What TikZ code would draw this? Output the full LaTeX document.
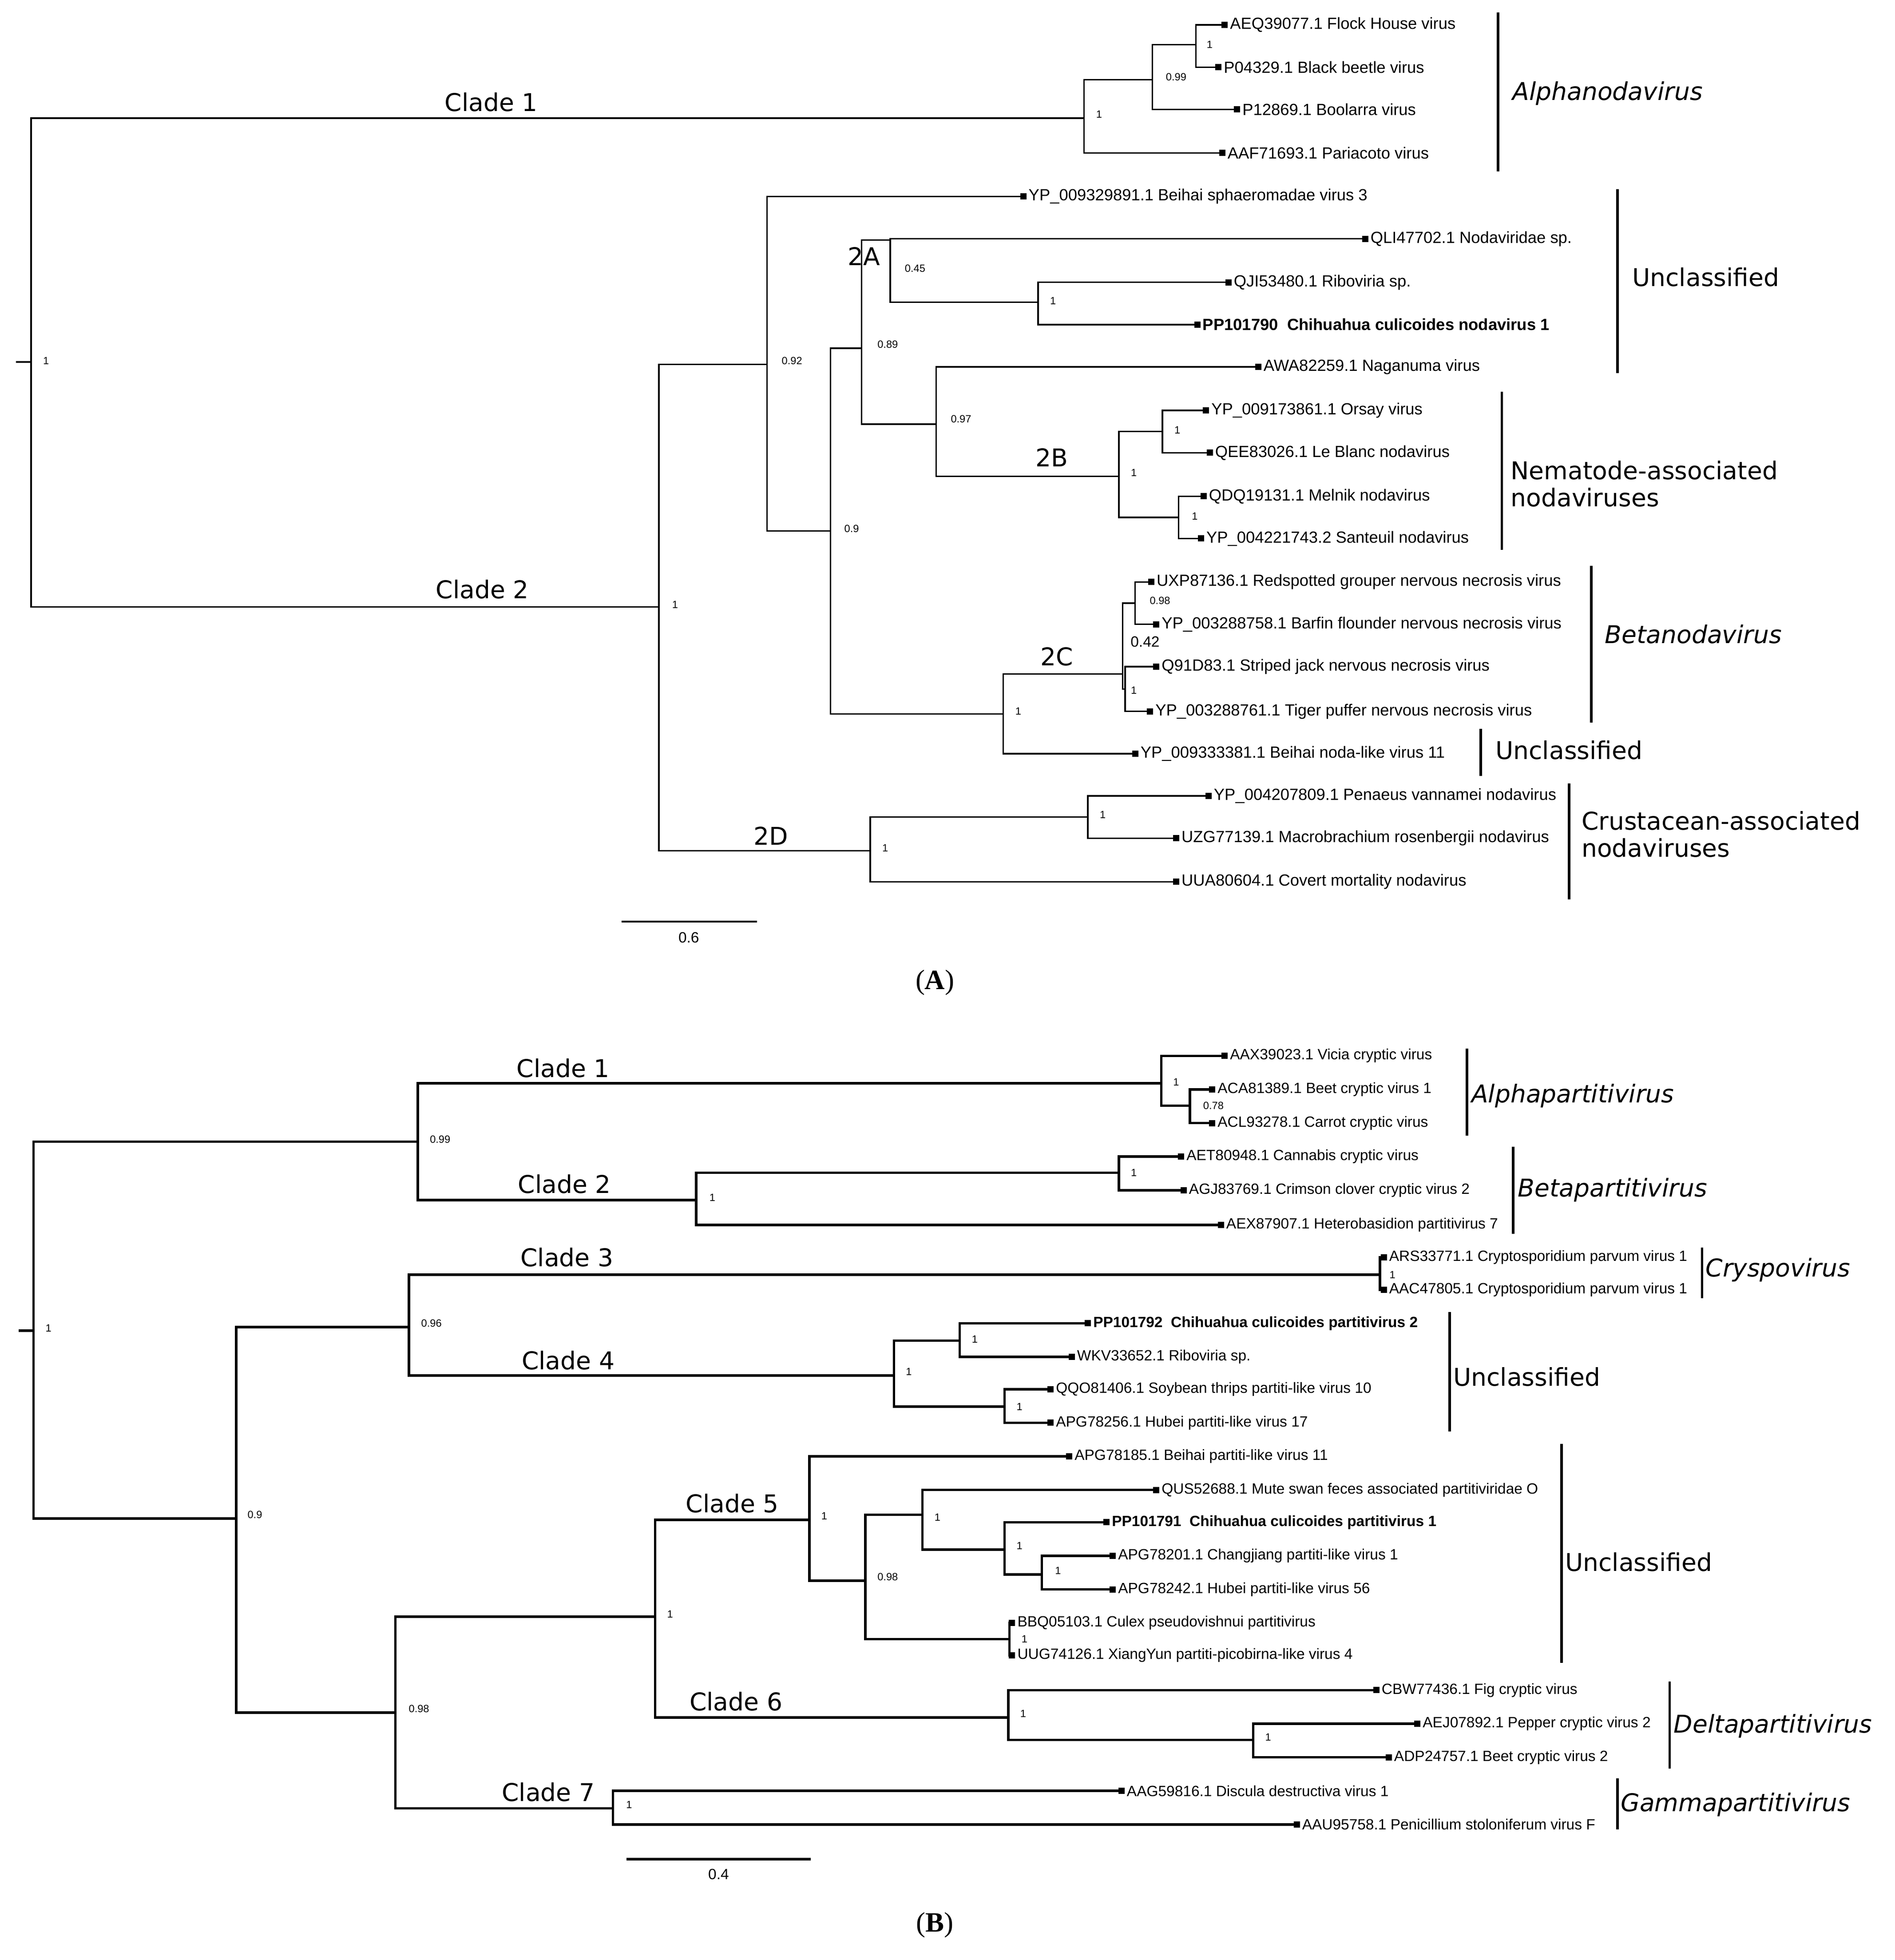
\documentclass[tikz,border=0pt]{standalone}
\usepackage{fontspec}
\setmainfont{Liberation Serif}
\newfontfamily\tipf{Liberation Sans}
\newfontfamily\labf{DejaVu Sans}
\begin{document}
\begin{tikzpicture}[x=0.05cm,y=-0.05cm,
 e/.style={line width=1.7pt},
 eb/.style={line width=2.8pt},
 tl/.style={anchor=west,inner sep=0pt,xshift=6pt,font=\tipf\fontsize{18.5}{20}\selectfont},
 tlb/.style={tl,font=\tipf\fontsize{17}{20}\selectfont},
 bs/.style={inner sep=0pt,font=\tipf\fontsize{12}{13}\selectfont},
 cl/.style={inner sep=0pt,font=\labf\fontsize{28}{31}\selectfont},
 gl/.style={inner sep=0pt,font=\labf\fontsize{28}{33}\itshape\selectfont},
 bar/.style={line width=2.8pt}]
\useasboundingbox (0,0) rectangle (1524,1576);
\newcommand\N[3]{\coordinate (#1) at (#2,#3);}
\newcommand\T[5][tl]{\coordinate (#2) at (#3,#4); \fill (#2) ++(-2.5,-2.5) rectangle ++(5,5); \node[#1] at (#2) {#5};}
\newcommand\Ea[2]{\foreach \c in {#2} \draw[e] (#1) |- (\c);}
\newcommand\Eb[2]{\foreach \c in {#2} \draw[eb] (#1) |- (\c);}
% ---------------- Tree A
\N{ar}{25}{291} \coordinate (ars) at (13,291); \draw[e] (ars) -- (ar);
\node[bs] at (37,290) {1};
\N{a1}{872}{95} \node[bs] at (884,92) {1};
\N{a11}{927}{64} \node[bs] at (946,62) {0.99};
\N{a111}{962}{36} \node[bs] at (973,36) {1};
\T{t1}{985}{20}{AEQ39077.1 Flock House virus}
\T{t2}{980}{54}{P04329.1 Black beetle virus}
\T{t3}{995}{88}{P12869.1 Boolarra virus}
\T{t4}{983}{123}{AAF71693.1 Pariacoto virus}
\N{a2}{530}{488} \node[bs] at (543,486) {1};
\N{a21}{617}{293} \node[bs] at (637,290) {0.92};
\T{t5}{823}{158}{YP\_009329891.1 Beihai sphaeromadae virus 3}
\N{a22}{668}{427} \node[bs] at (685,425) {0.9};
\N{a23}{693}{280} \node[bs] at (714,277) {0.89};
\N{a24}{716}{193} \node[bs] at (736,216) {0.45};
\T{t6}{1098}{192}{QLI47702.1 Nodaviridae sp.}
\N{a25}{835}{243} \node[bs] at (847,242) {1};
\T{t7}{988}{227}{QJI53480.1 Riboviria sp.}
\T{t8}{963}{261}{\bfseries PP101790\ \ Chihuahua culicoides nodavirus 1}
\N{a26}{753}{341} \node[bs] at (773,337) {0.97};
\T{t9}{1012}{295}{AWA82259.1 Naganuma virus}
\N{a27}{900}{383} \node[bs] at (912,380) {1};
\N{a28}{935}{347} \node[bs] at (947,346) {1};
\T{t10}{970}{330}{YP\_009173861.1 Orsay virus}
\T{t11}{973}{364}{QEE83026.1 Le Blanc nodavirus}
\N{a29}{948}{416} \node[bs] at (961,415) {1};
\T{t12}{968}{399}{QDQ19131.1 Melnik nodavirus}
\T{t13}{966}{433}{YP\_004221743.2 Santeuil nodavirus}
\N{a30}{807}{574} \node[bs] at (819,572) {1};
\N{a31}{903}{542} \node[inner sep=0pt,font=\tipf\fontsize{17}{18}\selectfont] at (921,516) {0.42};
\N{a32}{913}{485} \node[bs] at (933,483) {0.98};
\T{t14}{926}{468}{UXP87136.1 Redspotted grouper nervous necrosis virus}
\T{t15}{930}{502}{YP\_003288758.1 Barfin flounder nervous necrosis virus}
\N{a33}{905}{554} \node[bs] at (912,555) {1};
\T{t16}{930}{536}{Q91D83.1 Striped jack nervous necrosis virus}
\T{t17}{925}{572}{YP\_003288761.1 Tiger puffer nervous necrosis virus}
\T{t18}{913}{606}{YP\_009333381.1 Beihai noda-like virus 11}
\N{a34}{700}{684} \node[bs] at (712,682) {1};
\N{a35}{875}{657} \node[bs] at (887,655) {1};
\T{t19}{972}{640}{YP\_004207809.1 Penaeus vannamei nodavirus}
\T{t20}{946}{674}{UZG77139.1 Macrobrachium rosenbergii nodavirus}
\T{t21}{946}{709}{UUA80604.1 Covert mortality nodavirus}
\Ea{ar}{a1,a2}
\Ea{a1}{a11,t4}
\Ea{a11}{a111,t3}
\Ea{a111}{t1,t2}
\Ea{a2}{a21,a34}
\Ea{a21}{t5,a22}
\Ea{a22}{a23,a30}
\Ea{a23}{a24,a26}
\Ea{a24}{t6,a25}
\Ea{a25}{t7,t8}
\Ea{a26}{t9,a27}
\Ea{a27}{a28,a29}
\Ea{a28}{t10,t11}
\Ea{a29}{t12,t13}
\Ea{a30}{a31,t18}
\Ea{a31}{a32,a33}
\Ea{a32}{t14,t15}
\Ea{a33}{t16,t17}
\Ea{a34}{a35,t21}
\Ea{a35}{t19,t20}
\node[cl] at (395,82) {Clade 1};
\node[cl] at (388,474) {Clade 2};
\node[cl] at (695,206) {2A};
\node[cl] at (846,368) {2B};
\node[cl] at (850,528) {2C};
\node[cl] at (620,672) {2D};
\draw[bar] (1205,10) -- (1205,138); \node[gl] at (1293,75) {Alphanodavirus};
\draw[bar] (1301,152) -- (1301,300); \node[cl] at (1372,223) {Unclassified};
\draw[bar] (1208,315) -- (1208,442); \node[cl,anchor=west,align=left] at (1215,389) {Nematode-associated\\nodaviruses};
\draw[bar] (1280,455) -- (1280,581); \node[gl] at (1362,510) {Betanodavirus};
\draw[bar] (1191,586) -- (1191,624); \node[cl] at (1262,603) {Unclassified};
\draw[bar] (1262,630) -- (1262,723); \node[cl,anchor=west,align=left] at (1272,671) {Crustacean-associated\\nodaviruses};
\draw[e] (500,741) -- (609,741); \node[bs,font=\tipf\fontsize{17}{18}\selectfont] at (554,754) {0.6};
\node[inner sep=0pt,font=\fontsize{32}{34}\selectfont] at (752,790) {(\textbf{A})};
% ---------------- Tree B
\N{br}{27}{1070} \coordinate (brs) at (15,1070); \draw[eb] (brs) -- (br);
\node[bs] at (39,1068) {1};
\N{b1}{336}{918} \node[bs] at (354,916) {0.99};
\N{b2}{934}{871} \node[bs] at (946,870) {1};
\T[tlb]{u1}{985}{849}{AAX39023.1 Vicia cryptic virus}
\N{b3}{957}{889} \node[bs] at (976,889) {0.78};
\T[tlb]{u2}{975}{876}{ACA81389.1 Beet cryptic virus 1}
\T[tlb]{u3}{975}{903}{ACL93278.1 Carrot cryptic virus}
\N{b4}{560}{965} \node[bs] at (573,963) {1};
\N{b5}{900}{943} \node[bs] at (912,943) {1};
\T[tlb]{u4}{950}{930}{AET80948.1 Cannabis cryptic virus}
\T[tlb]{u5}{952}{957}{AGJ83769.1 Crimson clover cryptic virus 2}
\T[tlb]{u6}{982}{985}{AEX87907.1 Heterobasidion partitivirus 7}
\N{b6}{190}{1221} \node[bs] at (205,1218) {0.9};
\N{b7}{329}{1067} \node[bs] at (347,1064) {0.96};
\N{b8}{1110}{1025} \node[bs] at (1120,1025) {1};
\T[tlb]{u7}{1113}{1011}{ARS33771.1 Cryptosporidium parvum virus 1}
\T[tlb]{u8}{1113}{1037}{AAC47805.1 Cryptosporidium parvum virus 1}
\N{b9}{719}{1106} \node[bs] at (731,1103) {1};
\N{b10}{772}{1078} \node[bs] at (784,1077) {1};
\T[tlb]{u9}{875}{1064}{\bfseries PP101792\ \ Chihuahua culicoides partitivirus 2}
\T[tlb]{u10}{862}{1091}{WKV33652.1 Riboviria sp.}
\N{b11}{808}{1131} \node[bs] at (820,1131) {1};
\T[tlb]{u11}{845}{1117}{QQO81406.1 Soybean thrips partiti-like virus 10}
\T[tlb]{u12}{845}{1144}{APG78256.1 Hubei partiti-like virus 17}
\N{b12}{318}{1377} \node[bs] at (337,1374) {0.98};
\N{b13}{527}{1300} \node[bs] at (539,1298) {1};
\N{b14}{651}{1222} \node[bs] at (663,1219) {1};
\T[tlb]{u13}{860}{1171}{APG78185.1 Beihai partiti-like virus 11}
\N{b15}{696}{1271} \node[bs] at (714,1268) {0.98};
\N{b16}{742}{1218} \node[bs] at (754,1220) {1};
\T[tlb]{u14}{930}{1198}{QUS52688.1 Mute swan feces associated partitiviridae O}
\N{b17}{808}{1246} \node[bs] at (820,1243) {1};
\T[tlb]{u15}{890}{1224}{\bfseries PP101791\ \ Chihuahua culicoides partitivirus 1}
\N{b18}{838}{1266} \node[bs] at (851,1263) {1};
\T[tlb]{u16}{895}{1251}{APG78201.1 Changjiang partiti-like virus 1}
\T[tlb]{u17}{895}{1278}{APG78242.1 Hubei partiti-like virus 56}
\N{b19}{812}{1318} \node[bs] at (824,1318) {1};
\T[tlb]{u18}{814}{1305}{BBQ05103.1 Culex pseudovishnui partitivirus}
\T[tlb]{u19}{814}{1331}{UUG74126.1 XiangYun partiti-picobirna-like virus 4}
\N{b20}{811}{1381} \node[bs] at (823,1378) {1};
\T[tlb]{u20}{1107}{1359}{CBW77436.1 Fig cryptic virus}
\N{b21}{1008}{1399} \node[bs] at (1020,1397) {1};
\T[tlb]{u21}{1140}{1386}{AEJ07892.1 Pepper cryptic virus 2}
\T[tlb]{u22}{1117}{1413}{ADP24757.1 Beet cryptic virus 2}
\N{b22}{493}{1454} \node[bs] at (506,1451) {1};
\T[tlb]{u23}{902}{1440}{AAG59816.1 Discula destructiva virus 1}
\T[tlb]{u24}{1043}{1467}{AAU95758.1 Penicillium stoloniferum virus F}
\Eb{br}{b1,b6}
\Eb{b1}{b2,b4}
\Eb{b2}{u1,b3}
\Eb{b3}{u2,u3}
\Eb{b4}{b5,u6}
\Eb{b5}{u4,u5}
\Eb{b6}{b7,b12}
\Eb{b7}{b8,b9}
\Eb{b8}{u7,u8}
\Eb{b9}{b10,b11}
\Eb{b10}{u9,u10}
\Eb{b11}{u11,u12}
\Eb{b12}{b13,b22}
\Eb{b13}{b14,b20}
\Eb{b14}{u13,b15}
\Eb{b15}{b16,b19}
\Eb{b16}{u14,b17}
\Eb{b17}{u15,b18}
\Eb{b18}{u16,u17}
\Eb{b19}{u18,u19}
\Eb{b20}{u20,b21}
\Eb{b21}{u21,u22}
\Eb{b22}{u23,u24}
\node[cl] at (453,859) {Clade 1};
\node[cl] at (454,952) {Clade 2};
\node[cl] at (456,1011) {Clade 3};
\node[cl] at (457,1094) {Clade 4};
\node[cl] at (589,1209) {Clade 5};
\node[cl] at (592,1368) {Clade 6};
\node[cl] at (441,1441) {Clade 7};
\draw[bar] (1180,843) -- (1180,913); \node[gl] at (1265,881) {Alphapartitivirus};
\draw[bar] (1217,922) -- (1217,992); \node[gl] at (1297,957) {Betapartitivirus};
\draw[bar] (1369,1003) -- (1369,1044); \node[gl] at (1430,1021) {Cryspovirus};
\draw[bar] (1166,1055) -- (1166,1151); \node[cl] at (1228,1107) {Unclassified};
\draw[bar] (1256,1161) -- (1256,1337); \node[cl] at (1318,1256) {Unclassified};
\draw[bar] (1343,1352) -- (1343,1422); \node[gl] at (1426,1388) {Deltapartitivirus};
\draw[bar] (1301,1430) -- (1301,1471); \node[gl] at (1396,1451) {Gammapartitivirus};
\draw[eb] (504,1495) -- (652,1495); \node[bs,font=\tipf\fontsize{17}{18}\selectfont] at (578,1507) {0.4};
\node[inner sep=0pt,font=\fontsize{32}{34}\selectfont] at (752,1548) {(\textbf{B})};
\end{tikzpicture}
\end{document}
